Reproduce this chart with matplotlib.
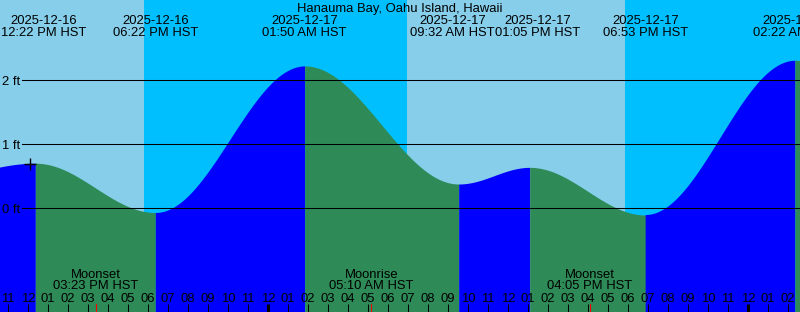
import numpy as np
import matplotlib
matplotlib.use("Agg")
import matplotlib.pyplot as plt

# time in hours since 2025-12-16 00:00 HST, level in ft
# first and last rows are off-chart extremes (estimated) to shape the edges
extreme_hours = [5.83, 12.367, 18.367, 25.833, 33.533, 37.083, 42.883, 50.367, 57.5]
extreme_levels = [0.35, 0.70, -0.07, 2.22, 0.375, 0.635, -0.11, 2.30, 0.45]

# labelled events shown at the top
event_hours = [12.367, 18.367, 25.833, 33.533, 37.083, 42.883, 50.367]
event_dates = ["2025-12-16", "2025-12-16", "2025-12-17", "2025-12-17",
               "2025-12-17", "2025-12-17", "2025-12-18"]
event_times = ["12:22 PM HST", "06:22 PM HST", "01:50 AM HST", "09:32 AM HST",
               "01:05 PM HST", "06:53 PM HST", "02:22 AM HST"]

# sun: daylight intervals
day_spans = [(10.0, 17.8), (30.97, 41.85)]

# moon events
moon_hours = [15.383, 29.167, 40.083]
moon_names = ["Moonset", "Moonrise", "Moonset"]
moon_times = ["03:23 PM HST", "05:10 AM HST", "04:05 PM HST"]

level_ticks = [0, 1, 2]
title = "Hanauma Bay, Oahu Island, Hawaii"

T0, T1 = 10.6, 50.6
PX_PER_FT = 64.0
FS = 9.4
plt.rcParams["font.family"] = ["Liberation Sans", "DejaVu Sans"]


def y_px(py):
    # pixel row -> level (0 ft sits on row 208)
    return (208 - py) / PX_PER_FT


def x_px(px):
    return T0 + px / 20.0


fig = plt.figure(figsize=(8, 3.12), dpi=100)
ax = fig.add_axes([0, 0, 1, 1])
ax.set_xlim(T0, T1)
ax.set_ylim(y_px(312), y_px(0))
ax.axis("off")

# night / day background
ax.axvspan(T0 - 1, T1 + 1, color="#00bfff", zorder=0)
for a, b in day_spans:
    ax.axvspan(a, b, color="#87ceeb", zorder=0.5, lw=0)

# tide curve, cosine between successive extremes
bottom = y_px(312)
for i in range(len(extreme_hours) - 1):
    ta, tb = extreme_hours[i], extreme_hours[i + 1]
    la, lb = extreme_levels[i], extreme_levels[i + 1]
    t = np.linspace(ta, tb, 200)
    lev = (la + lb) / 2 + (la - lb) / 2 * np.cos(np.pi * (t - ta) / (tb - ta))
    col = "#0000ff" if lb > la else "#2e8b57"
    ax.fill_between(t, bottom - 1, lev, color=col, lw=0, zorder=1)

# level lines
for lv in level_ticks:
    ax.plot([x_px(22), T1 + 1], [lv, lv], color="black", lw=0.75, zorder=3)
    ax.text(x_px(2), lv - 5 / PX_PER_FT, f"{lv} ft", ha="left", va="baseline",
            fontsize=FS, zorder=4)

# marker near first high
ax.plot([x_px(30)], [y_px(164)], marker="+", color="black", ms=8, mew=1, zorder=4)

# title and event labels
ax.text(x_px(400), y_px(12), title, ha="center", va="baseline", fontsize=FS)
shifts = [8, 0, 0, -6, 8, 0, 0]
for h, d, s, dx in zip(event_hours, event_dates, event_times, shifts):
    xc = h + dx / 20.0
    ax.text(xc, y_px(24), d, ha="center", va="baseline", fontsize=FS)
    ax.text(xc, y_px(36), s, ha="center", va="baseline", fontsize=FS)

# moon labels
for h, n, s in zip(moon_hours, moon_names, moon_times):
    ax.text(h, y_px(278), n, ha="center", va="baseline", fontsize=FS)
    ax.text(h, y_px(289), s, ha="center", va="baseline", fontsize=FS)
    ax.plot([h, h], [y_px(304), bottom], color="#ff0000", lw=0.75, zorder=4)

# hour ticks and labels
for hr in range(11, 51):
    lab = f"{(hr - 1) % 12 + 1:02d}"
    ax.text(hr, y_px(302), lab, ha="center", va="baseline", fontsize=FS, zorder=4)
    lw = 2.2 if hr % 24 == 0 else 0.75
    ax.plot([hr, hr], [y_px(304), bottom], color="black", lw=lw, zorder=4,
            solid_capstyle="butt")

fig.savefig("out.png", dpi=100)
